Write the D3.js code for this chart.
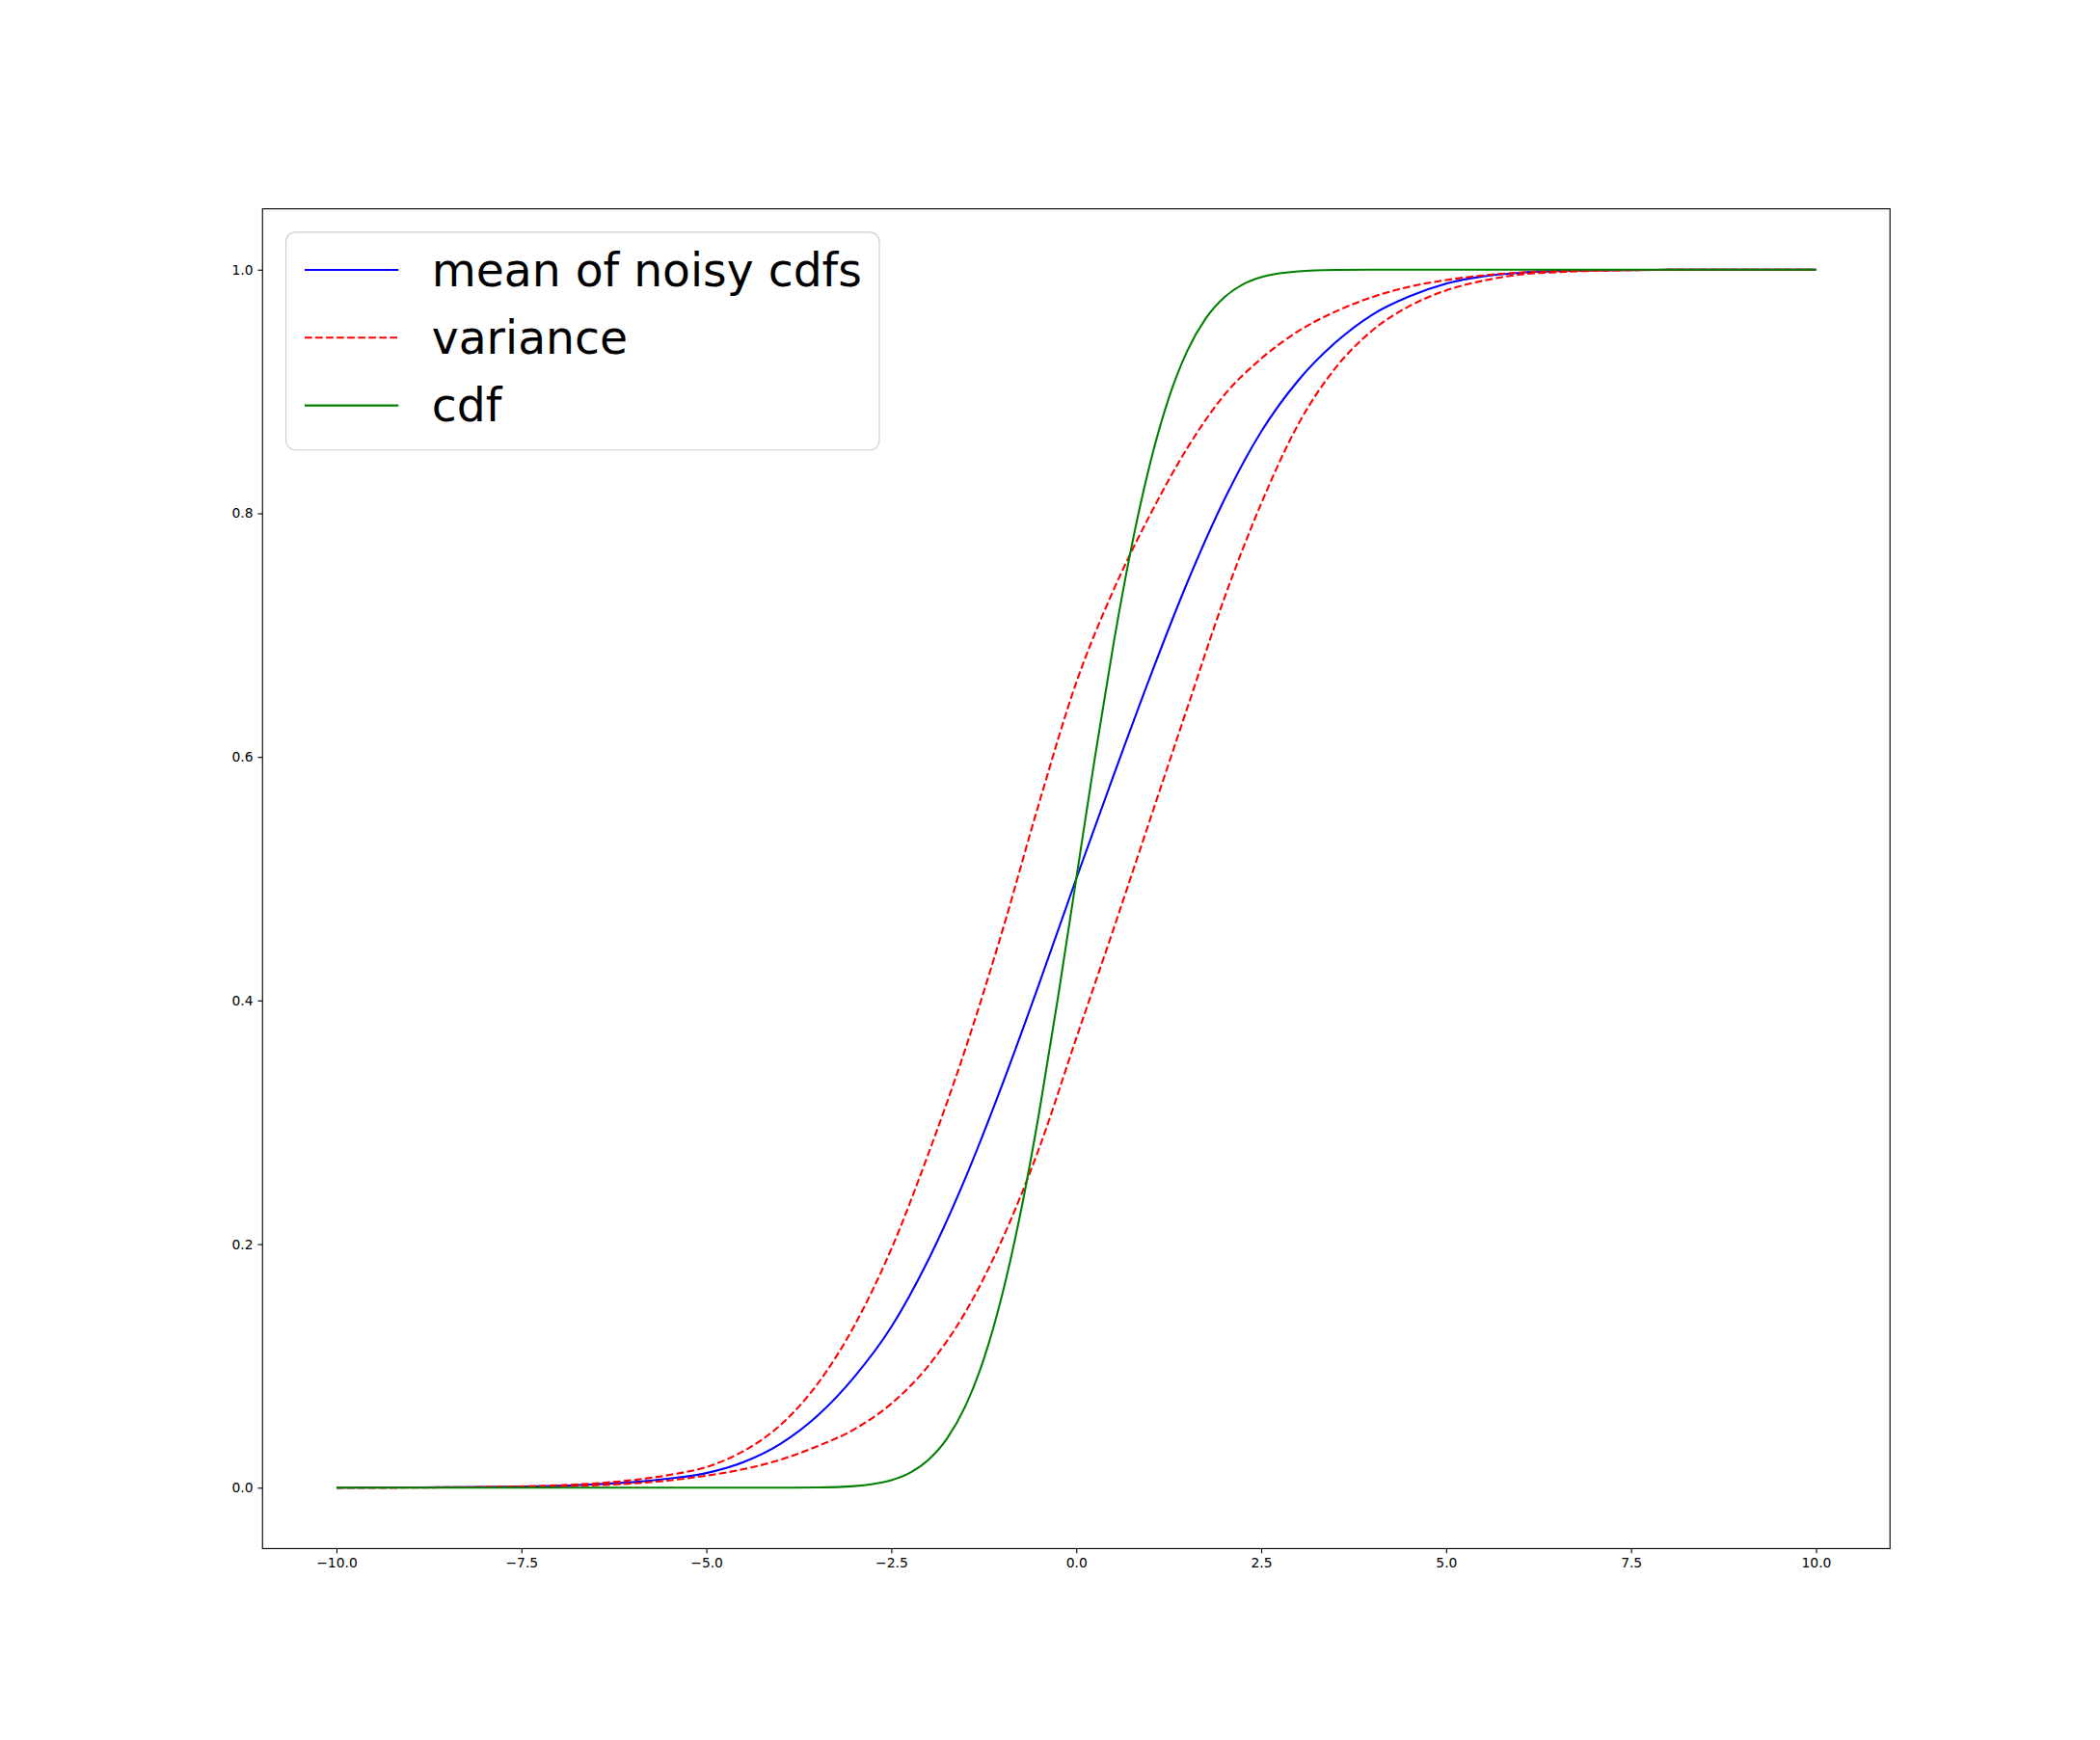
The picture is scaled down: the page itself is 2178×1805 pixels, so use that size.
<!DOCTYPE html>
<html>
  <head>
    <meta charset="utf-8">
    <script src="https://d3js.org/d3.v7.min.js"></script>
    <style type="text/css">
      body { margin: 0; background: #fff; }
      svg { display: block; }
      .tick text { font-family: "DejaVu Sans", sans-serif; }
    </style>
  </head>
  <body>
    <div id="chart"></div>
    <script type="text/javascript">
      // values
      var xs = [-10, -9, -8, -7, -6.5, -6, -5.5, -5, -4.5, -4, -3.5, -3, -2.5, -2, -1.5, -1, -0.5, 0,
                0.5, 1, 1.5, 2, 2.5, 3, 3.5, 4, 4.5, 5, 5.5, 6, 6.5, 7, 8, 9, 10];
      var meanCdf = [0, 0.0002, 0.0006, 0.0015, 0.0028, 0.0045, 0.0075, 0.012, 0.021, 0.036, 0.059, 0.091,
                     0.132, 0.187, 0.254, 0.331, 0.414, 0.5, 0.584, 0.666, 0.743, 0.811, 0.867, 0.909,
                     0.94, 0.963, 0.978, 0.9885, 0.9945, 0.9975, 0.9989, 0.9995, 0.9999, 1, 1];
      var varUpper = [0, 0.0002, 0.0006, 0.002, 0.0036, 0.0062, 0.0105, 0.017, 0.03, 0.0514, 0.085, 0.133,
                      0.196, 0.274, 0.36, 0.457, 0.5626, 0.661, 0.7365, 0.799, 0.8535, 0.897, 0.927, 0.9495,
                      0.9655, 0.9775, 0.986, 0.9915, 0.9953, 0.9977, 0.9988, 0.9994, 0.9999, 1, 1];
      var varLower = [0, 0.0001, 0.0003, 0.0011, 0.002, 0.0035, 0.006, 0.0099, 0.0152, 0.023, 0.034, 0.048,
                      0.069, 0.1, 0.144, 0.204, 0.279, 0.369, 0.458, 0.549, 0.64, 0.73, 0.808, 0.873,
                      0.919, 0.95, 0.97, 0.983, 0.991, 0.996, 0.998, 0.9991, 0.9999, 1, 1];
      var xsCdf = [-10, -8, -6, -4, -3.5, -3, -2.75, -2.5, -2.25, -2, -1.75, -1.5, -1.25, -1, -0.75, -0.5, -0.25, 0,
                   0.25, 0.5, 0.75, 1, 1.25, 1.5, 1.75, 2, 2.25, 2.5, 2.75, 3, 3.5, 4, 6, 8, 10];
      var cdf = [0, 0, 0, 0.00003, 0.0002, 0.0013, 0.003, 0.0062, 0.0122, 0.0228, 0.0401, 0.0668, 0.1056,
                 0.1587, 0.2266, 0.3085, 0.4013, 0.5, 0.5987, 0.6915, 0.7734, 0.8413, 0.8944, 0.9332,
                 0.9599, 0.9772, 0.9878, 0.9938, 0.997, 0.9987, 0.9998, 1, 1, 1, 1];
      var xTicks = [-10, -7.5, -5, -2.5, 0, 2.5, 5, 7.5, 10];
      var yTicks = [0, 0.2, 0.4, 0.6, 0.8, 1.0];
      var labels = ["mean of noisy cdfs", "variance", "cdf"];

      (function() {
        var W = 2178, H = 1805,
            mLeft = 272.25, mRight = 1960.2, mTop = 216.6, mBottom = 1606.45,
            pt = 100 / 72,
            lw = 1.5 * pt,
            fs = 35 * pt;

        var svg = d3.select("#chart").append("svg")
          .attr("width", W)
          .attr("height", H);

        svg.append("rect").attr("width", W).attr("height", H).attr("fill", "#fff");

        var x = d3.scaleLinear().domain([-11, 11]).range([mLeft, mRight]);
        var y = d3.scaleLinear().domain([-0.05, 1.05]).range([mBottom, mTop]);

        var line = d3.line()
          .x(function(d) { return x(d[0]); })
          .y(function(d) { return y(d[1]); })
          .curve(d3.curveMonotoneX);

        function pairs(a, b) { return a.map(function(v, i) { return [v, b[i]]; }); }

        var dash = [3.7 * lw, 1.6 * lw].join(",");
        var series = [
          {data: pairs(xs, meanCdf), color: "#0000ff", dash: null},
          {data: pairs(xs, varUpper), color: "#ff0000", dash: dash},
          {data: pairs(xs, varLower), color: "#ff0000", dash: dash},
          {data: pairs(xsCdf, cdf), color: "#008000", dash: null}
        ];

        svg.append("g")
          .selectAll("path")
          .data(series)
          .enter()
            .append("path")
            .attr("d", function(d) { return line(d.data); })
            .attr("fill", "none")
            .attr("stroke", function(d) { return d.color; })
            .attr("stroke-width", lw)
            .attr("stroke-dasharray", function(d) { return d.dash; });

        // axes
        var xAxis = svg.append("g")
          .attr("transform", "translate(0," + mBottom + ")")
          .call(d3.axisBottom(x).tickValues(xTicks).tickFormat(d3.format(".1f"))
            .tickSize(3.5 * pt).tickPadding(3.5 * pt));
        var yAxis = svg.append("g")
          .attr("transform", "translate(" + mLeft + ",0)")
          .call(d3.axisLeft(y).tickValues(yTicks).tickFormat(d3.format(".1f"))
            .tickSize(3.5 * pt).tickPadding(3.5 * pt));

        [xAxis, yAxis].forEach(function(a) {
          a.select(".domain").remove();
          a.selectAll(".tick line").attr("stroke", "#000").attr("stroke-width", 0.8 * pt);
          a.selectAll(".tick text").attr("fill", "#000").style("font-size", (10 * pt) + "px");
        });

        svg.append("rect")
          .attr("x", mLeft)
          .attr("y", mTop)
          .attr("width", mRight - mLeft)
          .attr("height", mBottom - mTop)
          .attr("fill", "none")
          .attr("stroke", "#000")
          .attr("stroke-width", 0.8 * pt);

        // legend
        var lx = mLeft + 0.5 * fs, ly = mTop + 0.5 * fs,
            rowH = 70.3, firstRow = 280;
        var legend = svg.append("g");
        legend.append("rect")
          .attr("x", lx)
          .attr("y", ly)
          .attr("width", 912 - lx)
          .attr("height", 466.7 - ly)
          .attr("rx", 0.2 * fs)
          .attr("fill", "#fff")
          .attr("fill-opacity", 0.8)
          .attr("stroke", "#cccccc")
          .attr("stroke-width", 0.8 * pt);

        var rows = legend.selectAll("g.row")
          .data([series[0], series[1], series[3]])
          .enter()
            .append("g")
            .attr("class", "row")
            .attr("transform", function(d, i) { return "translate(" + (lx + 0.4 * fs) + "," + (firstRow + i * rowH) + ")"; });

        rows.append("line")
          .attr("x1", 0)
          .attr("x2", 2 * fs)
          .attr("stroke", function(d) { return d.color; })
          .attr("stroke-width", lw)
          .attr("stroke-dasharray", function(d) { return d.dash; });

        rows.append("text")
          .attr("x", 2.71 * fs)
          .attr("y", 0.34 * fs)
          .attr("font-family", "DejaVu Sans, sans-serif")
          .attr("font-size", 34 * pt)
          .attr("fill", "#000")
          .text(function(d, i) { return labels[i]; });
      })();
    </script>
  </body>
</html>
